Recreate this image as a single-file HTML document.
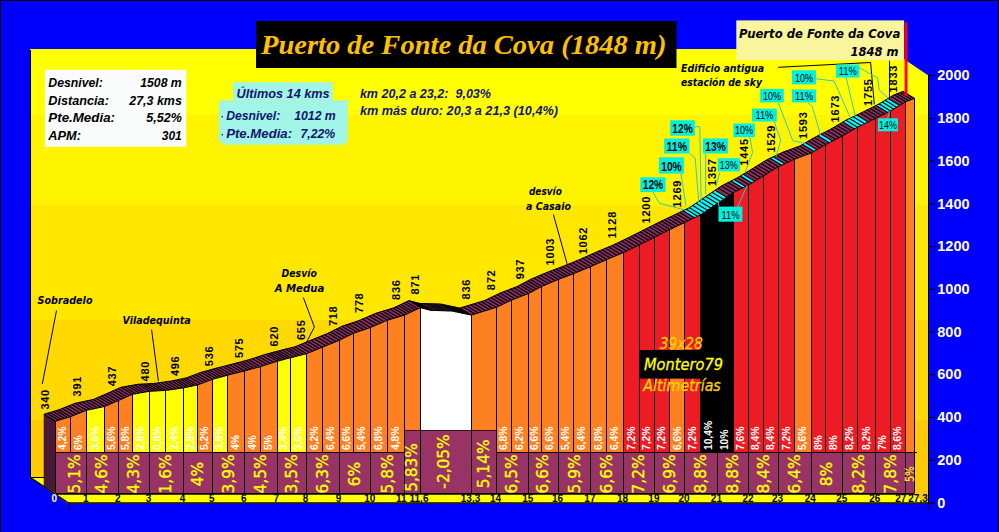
<!DOCTYPE html>
<html><head><meta charset="utf-8"><title>Puerto de Fonte da Cova</title>
<style>
html,body{margin:0;padding:0;background:#0000ff;width:999px;height:532px;overflow:hidden}
</style></head><body>
<svg width="999" height="532" viewBox="0 0 999 532" style="display:block">
<defs>
<linearGradient id="wall" x1="0" y1="49" x2="0" y2="503" gradientUnits="userSpaceOnUse"><stop offset="0" stop-color="#ffff00"/><stop offset="0.1454" stop-color="#ffff00"/><stop offset="0.1454" stop-color="#fff400"/><stop offset="0.3436" stop-color="#fff400"/><stop offset="0.3436" stop-color="#ffe700"/><stop offset="0.5969" stop-color="#ffe700"/><stop offset="0.5969" stop-color="#ffd900"/><stop offset="0.8172" stop-color="#ffd900"/><stop offset="0.8172" stop-color="#ffcb00"/><stop offset="1" stop-color="#ffcb00"/></linearGradient>
</defs>
<rect x="0" y="0" width="999" height="532" fill="#0000ff"/>
<rect x="0" y="0" width="999" height="1" fill="#000"/><rect x="0" y="0" width="1" height="532" fill="#000"/><rect x="998" y="0" width="1" height="532" fill="#000"/>
<polygon points="30,49 889,49 928,75.3 928,503.5 889,477.5 30,477.5" fill="url(#wall)"/>
<rect x="30" y="50" width="1" height="428" fill="#000"/>
<polygon points="30.5,477.5 889,477.5 928,503.5 68,503.5" fill="#ffff00"/>
<polyline points="30.5,477.5 68.5,503" fill="none" stroke="#000" stroke-width="1.2"/>
<line x1="31" y1="477.5" x2="45" y2="477.5" stroke="#000" stroke-width="1"/>
<line x1="68" y1="503" x2="928" y2="503" stroke="#000" stroke-width="1.5"/>
<line x1="69.5" y1="503" x2="69.5" y2="510" stroke="#000" stroke-width="1"/>
<text x="54.30" y="502.40" font-size="10" font-family="'Liberation Sans', sans-serif" font-weight="bold" fill="#fff" text-anchor="middle">0</text>
<text x="85.70" y="502.40" font-size="10" font-family="'Liberation Sans', sans-serif" font-weight="bold" fill="#000" text-anchor="middle">1</text>
<text x="117.70" y="502.40" font-size="10" font-family="'Liberation Sans', sans-serif" font-weight="bold" fill="#000" text-anchor="middle">2</text>
<text x="148.50" y="502.40" font-size="10" font-family="'Liberation Sans', sans-serif" font-weight="bold" fill="#000" text-anchor="middle">3</text>
<text x="182.60" y="502.40" font-size="10" font-family="'Liberation Sans', sans-serif" font-weight="bold" fill="#000" text-anchor="middle">4</text>
<text x="211.80" y="502.40" font-size="10" font-family="'Liberation Sans', sans-serif" font-weight="bold" fill="#000" text-anchor="middle">5</text>
<text x="243.70" y="502.40" font-size="10" font-family="'Liberation Sans', sans-serif" font-weight="bold" fill="#000" text-anchor="middle">6</text>
<text x="276.40" y="502.40" font-size="10" font-family="'Liberation Sans', sans-serif" font-weight="bold" fill="#000" text-anchor="middle">7</text>
<text x="305.60" y="502.40" font-size="10" font-family="'Liberation Sans', sans-serif" font-weight="bold" fill="#000" text-anchor="middle">8</text>
<text x="338.60" y="502.40" font-size="10" font-family="'Liberation Sans', sans-serif" font-weight="bold" fill="#000" text-anchor="middle">9</text>
<text x="369.70" y="502.40" font-size="10" font-family="'Liberation Sans', sans-serif" font-weight="bold" fill="#000" text-anchor="middle">10</text>
<text x="401.30" y="502.40" font-size="10" font-family="'Liberation Sans', sans-serif" font-weight="bold" fill="#000" text-anchor="middle">11</text>
<text x="419.00" y="502.40" font-size="10" font-family="'Liberation Sans', sans-serif" font-weight="bold" fill="#000" text-anchor="middle">11,6</text>
<text x="470.50" y="502.40" font-size="10" font-family="'Liberation Sans', sans-serif" font-weight="bold" fill="#000" text-anchor="middle">13,3</text>
<text x="495.50" y="502.40" font-size="10" font-family="'Liberation Sans', sans-serif" font-weight="bold" fill="#000" text-anchor="middle">14</text>
<text x="527.80" y="502.40" font-size="10" font-family="'Liberation Sans', sans-serif" font-weight="bold" fill="#000" text-anchor="middle">15</text>
<text x="557.60" y="502.40" font-size="10" font-family="'Liberation Sans', sans-serif" font-weight="bold" fill="#000" text-anchor="middle">16</text>
<text x="589.90" y="502.40" font-size="10" font-family="'Liberation Sans', sans-serif" font-weight="bold" fill="#000" text-anchor="middle">17</text>
<text x="622.60" y="502.40" font-size="10" font-family="'Liberation Sans', sans-serif" font-weight="bold" fill="#000" text-anchor="middle">18</text>
<text x="653.90" y="502.40" font-size="10" font-family="'Liberation Sans', sans-serif" font-weight="bold" fill="#000" text-anchor="middle">19</text>
<text x="684.10" y="502.40" font-size="10" font-family="'Liberation Sans', sans-serif" font-weight="bold" fill="#000" text-anchor="middle">20</text>
<text x="716.40" y="502.40" font-size="10" font-family="'Liberation Sans', sans-serif" font-weight="bold" fill="#000" text-anchor="middle">21</text>
<text x="748.00" y="502.40" font-size="10" font-family="'Liberation Sans', sans-serif" font-weight="bold" fill="#000" text-anchor="middle">22</text>
<text x="777.50" y="502.40" font-size="10" font-family="'Liberation Sans', sans-serif" font-weight="bold" fill="#000" text-anchor="middle">23</text>
<text x="810.30" y="502.40" font-size="10" font-family="'Liberation Sans', sans-serif" font-weight="bold" fill="#000" text-anchor="middle">24</text>
<text x="841.70" y="502.40" font-size="10" font-family="'Liberation Sans', sans-serif" font-weight="bold" fill="#000" text-anchor="middle">25</text>
<text x="874.80" y="502.40" font-size="10" font-family="'Liberation Sans', sans-serif" font-weight="bold" fill="#000" text-anchor="middle">26</text>
<text x="900.70" y="502.40" font-size="10" font-family="'Liberation Sans', sans-serif" font-weight="bold" fill="#000" text-anchor="middle">27</text>
<text x="918.00" y="502.40" font-size="10" font-family="'Liberation Sans', sans-serif" font-weight="bold" fill="#000" text-anchor="middle">27,3</text>
<polygon points="44.1,414.2 55.6,421.2 55.6,493.0 44.1,486.0" fill="#4a1834" stroke="#000" stroke-width="0.6"/>
<polygon points="55.6,493.0 55.6,421.2 70.5,416.7 70.5,493.0" fill="#ff8021"/>
<polygon points="70.5,493.0 70.5,416.7 86.5,410.3 86.5,493.0" fill="#ff8021"/>
<polygon points="86.5,493.0 86.5,410.3 104.6,406.5 104.6,493.0" fill="#ffff00"/>
<polygon points="104.6,493.0 104.6,406.5 118.5,400.5 118.5,493.0" fill="#ff8021"/>
<polygon points="118.5,493.0 118.5,400.5 132.4,394.3 132.4,493.0" fill="#ff8021"/>
<polygon points="132.4,493.0 132.4,394.3 149.3,391.3 149.3,493.0" fill="#ffff00"/>
<polygon points="149.3,493.0 149.3,391.3 165.7,390.4 165.7,493.0" fill="#ffff00"/>
<polygon points="165.7,493.0 165.7,390.4 183.4,387.9 183.4,493.0" fill="#ffff00"/>
<polygon points="183.4,493.0 183.4,387.9 197.7,384.9 197.7,493.0" fill="#ffff00"/>
<polygon points="197.7,493.0 197.7,384.9 212.6,379.3 212.6,493.0" fill="#ff8021"/>
<polygon points="212.6,493.0 212.6,379.3 227.6,375.2 227.6,493.0" fill="#ffff00"/>
<polygon points="227.6,493.0 227.6,375.2 244.5,370.9 244.5,493.0" fill="#ff8021"/>
<polygon points="244.5,493.0 244.5,370.9 260.3,366.7 260.3,493.0" fill="#ff8021"/>
<polygon points="260.3,493.0 260.3,366.7 277.2,361.3 277.2,493.0" fill="#ff8021"/>
<polygon points="277.2,493.0 277.2,361.3 290.6,357.7 290.6,493.0" fill="#ffff00"/>
<polygon points="290.6,493.0 290.6,357.7 306.4,353.8 306.4,493.0" fill="#ffff00"/>
<polygon points="306.4,493.0 306.4,353.8 322.4,347.2 322.4,493.0" fill="#ff8021"/>
<polygon points="322.4,493.0 322.4,347.2 339.4,340.3 339.4,493.0" fill="#ff8021"/>
<polygon points="339.4,493.0 339.4,340.3 353.4,333.3 353.4,493.0" fill="#ff8021"/>
<polygon points="353.4,493.0 353.4,333.3 370.5,327.5 370.5,493.0" fill="#ff8021"/>
<polygon points="370.5,493.0 370.5,327.5 387.5,320.2 387.5,493.0" fill="#ff8021"/>
<polygon points="387.5,493.0 387.5,320.2 404.6,315.1 404.6,493.0" fill="#ff8021"/>
<polygon points="404.6,493.0 404.6,315.1 420.4,307.6 420.4,493.0" fill="#ff8021"/>
<polygon points="420.4,493.0 420.4,307.6 431.0,310.4 452.0,311.0 471.3,315.1 471.3,493.0" fill="#ffffff"/>
<polygon points="471.3,493.0 471.3,315.1 496.3,307.4 496.3,493.0" fill="#ff8021"/>
<polygon points="496.3,493.0 496.3,307.4 511.5,300.1 511.5,493.0" fill="#ff8021"/>
<polygon points="511.5,493.0 511.5,300.1 528.6,293.5 528.6,493.0" fill="#ff8021"/>
<polygon points="528.6,493.0 528.6,293.5 541.9,286.4 541.9,493.0" fill="#ff8021"/>
<polygon points="541.9,493.0 541.9,286.4 558.4,279.4 558.4,493.0" fill="#ff8021"/>
<polygon points="558.4,493.0 558.4,279.4 573.8,273.6 573.8,493.0" fill="#ff8021"/>
<polygon points="573.8,493.0 573.8,273.6 590.7,266.7 590.7,493.0" fill="#ff8021"/>
<polygon points="590.7,493.0 590.7,266.7 606.8,259.5 606.8,493.0" fill="#ff8021"/>
<polygon points="606.8,493.0 606.8,259.5 623.4,252.6 623.4,493.0" fill="#ff8021"/>
<polygon points="623.4,493.0 623.4,252.6 639.4,244.9 639.4,493.0" fill="#ed1c24"/>
<polygon points="639.4,493.0 639.4,244.9 654.7,237.2 654.7,493.0" fill="#ed1c24"/>
<polygon points="654.7,493.0 654.7,237.2 669.9,229.5 669.9,493.0" fill="#ed1c24"/>
<polygon points="669.9,493.0 669.9,229.5 684.9,222.4 684.9,493.0" fill="#ff8021"/>
<polygon points="684.9,493.0 684.9,222.4 700.9,214.7 700.9,493.0" fill="#ed1c24"/>
<polygon points="700.9,493.0 700.9,214.7 717.2,203.6 717.2,493.0" fill="#000000"/>
<polygon points="717.2,493.0 717.2,203.6 733.0,192.9 733.0,493.0" fill="#000000"/>
<polygon points="733.0,493.0 733.0,192.9 748.8,184.8 748.8,493.0" fill="#ed1c24"/>
<polygon points="748.8,493.0 748.8,184.8 763.7,175.8 763.7,493.0" fill="#ed1c24"/>
<polygon points="763.7,493.0 763.7,175.8 778.3,166.8 778.3,493.0" fill="#ed1c24"/>
<polygon points="778.3,493.0 778.3,166.8 794.6,159.1 794.6,493.0" fill="#ed1c24"/>
<polygon points="794.6,493.0 794.6,159.1 811.1,153.1 811.1,493.0" fill="#ff8021"/>
<polygon points="811.1,493.0 811.1,153.1 825.9,144.5 825.9,493.0" fill="#ed1c24"/>
<polygon points="825.9,493.0 825.9,144.5 842.5,136.0 842.5,493.0" fill="#ed1c24"/>
<polygon points="842.5,493.0 842.5,136.0 857.4,127.2 857.4,493.0" fill="#ed1c24"/>
<polygon points="857.4,493.0 857.4,127.2 875.6,118.4 875.6,493.0" fill="#ed1c24"/>
<polygon points="875.6,493.0 875.6,118.4 890.6,110.9 890.6,493.0" fill="#ed1c24"/>
<polygon points="890.6,493.0 890.6,110.9 905.7,101.7 905.7,493.0" fill="#ed1c24"/>
<polygon points="905.7,493.0 905.7,101.7 914.4,98.5 914.4,493.0" fill="#ff8021"/>
<line x1="55.5" y1="421.2" x2="55.5" y2="493.0" stroke="#000" stroke-width="1"/>
<line x1="70.5" y1="416.7" x2="70.5" y2="493.0" stroke="#000" stroke-width="1"/>
<line x1="86.5" y1="410.3" x2="86.5" y2="493.0" stroke="#000" stroke-width="1"/>
<line x1="104.5" y1="406.5" x2="104.5" y2="493.0" stroke="#000" stroke-width="1"/>
<line x1="118.5" y1="400.5" x2="118.5" y2="493.0" stroke="#000" stroke-width="1"/>
<line x1="132.5" y1="394.3" x2="132.5" y2="493.0" stroke="#000" stroke-width="1"/>
<line x1="149.5" y1="391.3" x2="149.5" y2="493.0" stroke="#000" stroke-width="1"/>
<line x1="165.5" y1="390.4" x2="165.5" y2="493.0" stroke="#000" stroke-width="1"/>
<line x1="183.5" y1="387.9" x2="183.5" y2="493.0" stroke="#000" stroke-width="1"/>
<line x1="197.5" y1="384.9" x2="197.5" y2="493.0" stroke="#000" stroke-width="1"/>
<line x1="212.5" y1="379.3" x2="212.5" y2="493.0" stroke="#000" stroke-width="1"/>
<line x1="227.5" y1="375.2" x2="227.5" y2="493.0" stroke="#000" stroke-width="1"/>
<line x1="244.5" y1="370.9" x2="244.5" y2="493.0" stroke="#000" stroke-width="1"/>
<line x1="260.5" y1="366.7" x2="260.5" y2="493.0" stroke="#000" stroke-width="1"/>
<line x1="277.5" y1="361.3" x2="277.5" y2="493.0" stroke="#000" stroke-width="1"/>
<line x1="290.5" y1="357.7" x2="290.5" y2="493.0" stroke="#000" stroke-width="1"/>
<line x1="306.5" y1="353.8" x2="306.5" y2="493.0" stroke="#000" stroke-width="1"/>
<line x1="322.5" y1="347.2" x2="322.5" y2="493.0" stroke="#000" stroke-width="1"/>
<line x1="339.5" y1="340.3" x2="339.5" y2="493.0" stroke="#000" stroke-width="1"/>
<line x1="353.5" y1="333.3" x2="353.5" y2="493.0" stroke="#000" stroke-width="1"/>
<line x1="370.5" y1="327.5" x2="370.5" y2="493.0" stroke="#000" stroke-width="1"/>
<line x1="387.5" y1="320.2" x2="387.5" y2="493.0" stroke="#000" stroke-width="1"/>
<line x1="404.5" y1="315.1" x2="404.5" y2="493.0" stroke="#000" stroke-width="1"/>
<line x1="420.5" y1="307.6" x2="420.5" y2="493.0" stroke="#000" stroke-width="1"/>
<line x1="471.5" y1="315.1" x2="471.5" y2="493.0" stroke="#000" stroke-width="1"/>
<line x1="496.5" y1="307.4" x2="496.5" y2="493.0" stroke="#000" stroke-width="1"/>
<line x1="511.5" y1="300.1" x2="511.5" y2="493.0" stroke="#000" stroke-width="1"/>
<line x1="528.5" y1="293.5" x2="528.5" y2="493.0" stroke="#000" stroke-width="1"/>
<line x1="541.5" y1="286.4" x2="541.5" y2="493.0" stroke="#000" stroke-width="1"/>
<line x1="558.5" y1="279.4" x2="558.5" y2="493.0" stroke="#000" stroke-width="1"/>
<line x1="573.5" y1="273.6" x2="573.5" y2="493.0" stroke="#000" stroke-width="1"/>
<line x1="590.5" y1="266.7" x2="590.5" y2="493.0" stroke="#000" stroke-width="1"/>
<line x1="606.5" y1="259.5" x2="606.5" y2="493.0" stroke="#000" stroke-width="1"/>
<line x1="623.5" y1="252.6" x2="623.5" y2="493.0" stroke="#000" stroke-width="1"/>
<line x1="639.5" y1="244.9" x2="639.5" y2="493.0" stroke="#000" stroke-width="1"/>
<line x1="654.5" y1="237.2" x2="654.5" y2="493.0" stroke="#000" stroke-width="1"/>
<line x1="669.5" y1="229.5" x2="669.5" y2="493.0" stroke="#000" stroke-width="1"/>
<line x1="684.5" y1="222.4" x2="684.5" y2="493.0" stroke="#000" stroke-width="1"/>
<line x1="700.5" y1="214.7" x2="700.5" y2="493.0" stroke="#000" stroke-width="1"/>
<line x1="717.5" y1="203.6" x2="717.5" y2="493.0" stroke="#000" stroke-width="1"/>
<line x1="733.5" y1="192.9" x2="733.5" y2="493.0" stroke="#000" stroke-width="1"/>
<line x1="748.5" y1="184.8" x2="748.5" y2="493.0" stroke="#000" stroke-width="1"/>
<line x1="763.5" y1="175.8" x2="763.5" y2="493.0" stroke="#000" stroke-width="1"/>
<line x1="778.5" y1="166.8" x2="778.5" y2="493.0" stroke="#000" stroke-width="1"/>
<line x1="794.5" y1="159.1" x2="794.5" y2="493.0" stroke="#000" stroke-width="1"/>
<line x1="811.5" y1="153.1" x2="811.5" y2="493.0" stroke="#000" stroke-width="1"/>
<line x1="825.5" y1="144.5" x2="825.5" y2="493.0" stroke="#000" stroke-width="1"/>
<line x1="842.5" y1="136.0" x2="842.5" y2="493.0" stroke="#000" stroke-width="1"/>
<line x1="857.5" y1="127.2" x2="857.5" y2="493.0" stroke="#000" stroke-width="1"/>
<line x1="875.5" y1="118.4" x2="875.5" y2="493.0" stroke="#000" stroke-width="1"/>
<line x1="890.5" y1="110.9" x2="890.5" y2="493.0" stroke="#000" stroke-width="1"/>
<line x1="905.5" y1="101.7" x2="905.5" y2="493.0" stroke="#000" stroke-width="1"/>
<line x1="914.5" y1="98.5" x2="914.5" y2="493.0" stroke="#000" stroke-width="1"/>
<polygon points="55.6,421.2 70.5,416.7 86.5,410.3 104.6,406.5 118.5,400.5 132.4,394.3 149.3,391.3 165.7,390.4 183.4,387.9 197.7,384.9 212.6,379.3 227.6,375.2 244.5,370.9 260.3,366.7 277.2,361.3 290.6,357.7 306.4,353.8 322.4,347.2 339.4,340.3 353.4,333.3 370.5,327.5 387.5,320.2 404.6,315.1 420.4,307.6 431.0,310.4 452.0,311.0 471.3,315.1 496.3,307.4 511.5,300.1 528.6,293.5 541.9,286.4 558.4,279.4 573.8,273.6 590.7,266.7 606.8,259.5 623.4,252.6 639.4,244.9 654.7,237.2 669.9,229.5 684.9,222.4 700.9,214.7 717.2,203.6 733.0,192.9 748.8,184.8 763.7,175.8 778.3,166.8 794.6,159.1 811.1,153.1 825.9,144.5 842.5,136.0 857.4,127.2 875.6,118.4 890.6,110.9 905.7,101.7 914.4,98.5 902.9,91.5 894.2,94.7 879.1,103.9 864.1,111.4 845.9,120.2 831.0,129.0 814.4,137.5 799.6,146.1 783.1,152.1 766.8,159.8 752.2,168.8 737.3,177.8 721.5,185.9 705.7,196.6 689.4,207.7 673.4,215.4 658.4,222.5 643.2,230.2 627.9,237.9 611.9,245.6 595.3,252.5 579.2,259.7 562.3,266.6 546.9,272.4 530.4,279.4 517.1,286.5 500.0,293.1 484.8,300.4 459.8,308.1 440.5,304.0 419.5,303.4 408.9,300.6 393.1,308.1 376.0,313.2 359.0,320.5 341.9,326.3 327.9,333.3 310.9,340.2 294.9,346.8 279.1,350.7 265.7,354.3 248.8,359.7 233.0,363.9 216.1,368.2 201.1,372.3 186.2,377.9 171.9,380.9 154.2,383.4 137.8,384.3 120.9,387.3 107.0,393.5 93.1,399.5 75.0,403.3 59.0,409.7 44.1,414.2" fill="#8a2e62"/>
<polygon points="694.5,217.8 697.7,216.3 686.2,209.3 683.0,210.8" fill="#00ffff"/>
<polygon points="697.7,216.3 700.9,214.7 689.4,207.7 686.2,209.3" fill="#00ffff"/>
<polygon points="700.9,214.7 704.2,212.5 692.7,205.5 689.4,207.7" fill="#00ffff"/>
<polygon points="704.2,212.5 707.4,210.3 695.9,203.3 692.7,205.5" fill="#00ffff"/>
<polygon points="707.4,210.3 710.7,208.1 699.2,201.1 695.9,203.3" fill="#00ffff"/>
<polygon points="710.7,208.1 713.9,205.8 702.4,198.8 699.2,201.1" fill="#00ffff"/>
<polygon points="713.9,205.8 717.2,203.6 705.7,196.6 702.4,198.8" fill="#00ffff"/>
<polygon points="717.2,203.6 720.4,201.5 708.9,194.5 705.7,196.6" fill="#00ffff"/>
<polygon points="720.4,201.5 723.5,199.3 712.0,192.3 708.9,194.5" fill="#00ffff"/>
<polygon points="723.5,199.3 726.7,197.2 715.2,190.2 712.0,192.3" fill="#00ffff"/>
<polygon points="742.5,188.0 745.6,186.4 734.1,179.4 731.0,181.0" fill="#00ffff"/>
<polygon points="751.8,183.0 754.8,181.2 743.3,174.2 740.3,176.0" fill="#00ffff"/>
<polygon points="781.6,165.3 784.8,163.7 773.3,156.7 770.1,158.3" fill="#00ffff"/>
<polygon points="814.1,151.4 817.0,149.7 805.5,142.7 802.6,144.4" fill="#00ffff"/>
<polygon points="829.2,142.8 832.5,141.1 821.0,134.1 817.7,135.8" fill="#00ffff"/>
<polygon points="854.4,129.0 857.4,127.2 845.9,120.2 842.9,122.0" fill="#00ffff"/>
<polygon points="857.4,127.2 861.0,125.4 849.5,118.4 845.9,120.2" fill="#00ffff"/>
<polygon points="861.0,125.4 864.7,123.7 853.2,116.7 849.5,118.4" fill="#00ffff"/>
<polygon points="864.7,123.7 868.3,121.9 856.8,114.9 853.2,116.7" fill="#00ffff"/>
<polygon points="887.6,112.4 890.6,110.9 879.1,103.9 876.1,105.4" fill="#00ffff"/>
<polygon points="890.6,110.9 893.6,109.1 882.1,102.1 879.1,103.9" fill="#00ffff"/>
<polygon points="893.6,109.1 896.6,107.3 885.1,100.3 882.1,102.1" fill="#00ffff"/>
<polygon points="896.6,107.3 899.7,105.4 888.2,98.4 885.1,100.3" fill="#00ffff"/>
<path d="M55.6,421.2l-11.5,-7.0M58.6,420.3l-11.5,-7.0M61.6,419.4l-11.5,-7.0M64.5,418.5l-11.5,-7.0M67.5,417.6l-11.5,-7.0M70.5,416.7l-11.5,-7.0M73.7,415.5l-11.5,-7.0M76.9,414.2l-11.5,-7.0M80.1,412.9l-11.5,-7.0M83.3,411.6l-11.5,-7.0M86.5,410.3l-11.5,-7.0M90.1,409.6l-11.5,-7.0M93.7,408.8l-11.5,-7.0M97.4,408.0l-11.5,-7.0M101.0,407.2l-11.5,-7.0M104.6,406.5l-11.5,-7.0M107.4,405.3l-11.5,-7.0M110.2,404.1l-11.5,-7.0M112.9,402.9l-11.5,-7.0M115.7,401.7l-11.5,-7.0M118.5,400.5l-11.5,-7.0M121.3,399.2l-11.5,-7.0M124.1,398.0l-11.5,-7.0M126.8,396.8l-11.5,-7.0M129.6,395.5l-11.5,-7.0M132.4,394.3l-11.5,-7.0M135.8,393.7l-11.5,-7.0M139.2,393.1l-11.5,-7.0M142.5,392.5l-11.5,-7.0M145.9,391.9l-11.5,-7.0M149.3,391.3l-11.5,-7.0M152.6,391.1l-11.5,-7.0M155.9,390.9l-11.5,-7.0M159.1,390.8l-11.5,-7.0M162.4,390.6l-11.5,-7.0M165.7,390.4l-11.5,-7.0M169.2,389.9l-11.5,-7.0M172.8,389.4l-11.5,-7.0M176.3,388.9l-11.5,-7.0M179.9,388.4l-11.5,-7.0M183.4,387.9l-11.5,-7.0M186.3,387.3l-11.5,-7.0M189.1,386.7l-11.5,-7.0M192.0,386.1l-11.5,-7.0M194.8,385.5l-11.5,-7.0M197.7,384.9l-11.5,-7.0M200.7,383.7l-11.5,-7.0M203.7,382.6l-11.5,-7.0M206.6,381.5l-11.5,-7.0M209.6,380.4l-11.5,-7.0M212.6,379.3l-11.5,-7.0M215.6,378.5l-11.5,-7.0M218.6,377.7l-11.5,-7.0M221.6,376.9l-11.5,-7.0M224.6,376.0l-11.5,-7.0M227.6,375.2l-11.5,-7.0M231.0,374.4l-11.5,-7.0M234.4,373.5l-11.5,-7.0M237.7,372.7l-11.5,-7.0M241.1,371.8l-11.5,-7.0M244.5,370.9l-11.5,-7.0M247.7,370.1l-11.5,-7.0M250.8,369.2l-11.5,-7.0M254.0,368.4l-11.5,-7.0M257.1,367.5l-11.5,-7.0M260.3,366.7l-11.5,-7.0M263.7,365.6l-11.5,-7.0M267.1,364.5l-11.5,-7.0M270.4,363.5l-11.5,-7.0M273.8,362.4l-11.5,-7.0M277.2,361.3l-11.5,-7.0M279.9,360.6l-11.5,-7.0M282.6,359.9l-11.5,-7.0M285.2,359.1l-11.5,-7.0M287.9,358.4l-11.5,-7.0M290.6,357.7l-11.5,-7.0M293.8,356.9l-11.5,-7.0M296.9,356.1l-11.5,-7.0M300.1,355.4l-11.5,-7.0M303.2,354.6l-11.5,-7.0M306.4,353.8l-11.5,-7.0M309.6,352.5l-11.5,-7.0M312.8,351.2l-11.5,-7.0M316.0,349.8l-11.5,-7.0M319.2,348.5l-11.5,-7.0M322.4,347.2l-11.5,-7.0M325.8,345.8l-11.5,-7.0M329.2,344.5l-11.5,-7.0M332.6,343.1l-11.5,-7.0M336.0,341.7l-11.5,-7.0M339.4,340.3l-11.5,-7.0M342.2,338.9l-11.5,-7.0M345.0,337.5l-11.5,-7.0M347.8,336.1l-11.5,-7.0M350.6,334.7l-11.5,-7.0M353.4,333.3l-11.5,-7.0M356.8,332.1l-11.5,-7.0M360.2,331.0l-11.5,-7.0M363.7,329.8l-11.5,-7.0M367.1,328.7l-11.5,-7.0M370.5,327.5l-11.5,-7.0M373.9,326.1l-11.5,-7.0M377.3,324.6l-11.5,-7.0M380.7,323.1l-11.5,-7.0M384.1,321.7l-11.5,-7.0M387.5,320.2l-11.5,-7.0M390.9,319.2l-11.5,-7.0M394.3,318.2l-11.5,-7.0M397.8,317.2l-11.5,-7.0M401.2,316.1l-11.5,-7.0M404.6,315.1l-11.5,-7.0M407.2,313.8l-11.5,-7.0M409.9,312.6l-11.5,-7.0M412.5,311.4l-11.5,-7.0M415.1,310.1l-11.5,-7.0M417.8,308.9l-11.5,-7.0M420.4,307.6l-11.5,-7.0M423.4,308.4l-11.5,-7.0M426.4,309.2l-11.5,-7.0M429.4,310.0l-11.5,-7.0M432.4,310.4l-11.5,-7.0M435.4,310.5l-11.5,-7.0M438.4,310.6l-11.5,-7.0M441.4,310.7l-11.5,-7.0M444.4,310.8l-11.5,-7.0M447.3,310.9l-11.5,-7.0M450.3,311.0l-11.5,-7.0M453.3,311.3l-11.5,-7.0M456.3,311.9l-11.5,-7.0M459.3,312.6l-11.5,-7.0M462.3,313.2l-11.5,-7.0M465.3,313.8l-11.5,-7.0M468.3,314.5l-11.5,-7.0M471.3,315.1l-11.5,-7.0M474.9,314.0l-11.5,-7.0M478.4,312.9l-11.5,-7.0M482.0,311.8l-11.5,-7.0M485.6,310.7l-11.5,-7.0M489.2,309.6l-11.5,-7.0M492.7,308.5l-11.5,-7.0M496.3,307.4l-11.5,-7.0M499.3,305.9l-11.5,-7.0M502.4,304.5l-11.5,-7.0M505.4,303.0l-11.5,-7.0M508.5,301.6l-11.5,-7.0M511.5,300.1l-11.5,-7.0M514.9,298.8l-11.5,-7.0M518.3,297.5l-11.5,-7.0M521.8,296.1l-11.5,-7.0M525.2,294.8l-11.5,-7.0M528.6,293.5l-11.5,-7.0M531.3,292.1l-11.5,-7.0M533.9,290.7l-11.5,-7.0M536.6,289.2l-11.5,-7.0M539.2,287.8l-11.5,-7.0M541.9,286.4l-11.5,-7.0M545.2,285.0l-11.5,-7.0M548.5,283.6l-11.5,-7.0M551.8,282.2l-11.5,-7.0M555.1,280.8l-11.5,-7.0M558.4,279.4l-11.5,-7.0M561.5,278.2l-11.5,-7.0M564.6,277.0l-11.5,-7.0M567.6,275.9l-11.5,-7.0M570.7,274.7l-11.5,-7.0M573.8,273.6l-11.5,-7.0M577.2,272.2l-11.5,-7.0M580.6,270.8l-11.5,-7.0M583.9,269.5l-11.5,-7.0M587.3,268.1l-11.5,-7.0M590.7,266.7l-11.5,-7.0M593.9,265.3l-11.5,-7.0M597.1,263.8l-11.5,-7.0M600.4,262.4l-11.5,-7.0M603.6,260.9l-11.5,-7.0M606.8,259.5l-11.5,-7.0M610.1,258.1l-11.5,-7.0M613.4,256.7l-11.5,-7.0M616.8,255.3l-11.5,-7.0M620.1,254.0l-11.5,-7.0M623.4,252.6l-11.5,-7.0M626.6,251.1l-11.5,-7.0M629.8,249.5l-11.5,-7.0M633.0,248.0l-11.5,-7.0M636.2,246.4l-11.5,-7.0M639.4,244.9l-11.5,-7.0M642.5,243.4l-11.5,-7.0M645.5,241.8l-11.5,-7.0M648.6,240.3l-11.5,-7.0M651.6,238.7l-11.5,-7.0M654.7,237.2l-11.5,-7.0M657.7,235.7l-11.5,-7.0M660.8,234.1l-11.5,-7.0M663.8,232.6l-11.5,-7.0M666.9,231.0l-11.5,-7.0M669.9,229.5l-11.5,-7.0M672.9,228.1l-11.5,-7.0M675.9,226.7l-11.5,-7.0M678.9,225.3l-11.5,-7.0M681.9,223.8l-11.5,-7.0M684.9,222.4l-11.5,-7.0M688.1,220.9l-11.5,-7.0M691.3,219.4l-11.5,-7.0M694.5,217.8l-11.5,-7.0M697.7,216.3l-11.5,-7.0M700.9,214.7l-11.5,-7.0M704.2,212.5l-11.5,-7.0M707.4,210.3l-11.5,-7.0M710.7,208.1l-11.5,-7.0M713.9,205.8l-11.5,-7.0M717.2,203.6l-11.5,-7.0M720.4,201.5l-11.5,-7.0M723.5,199.3l-11.5,-7.0M726.7,197.2l-11.5,-7.0M729.8,195.0l-11.5,-7.0M733.0,192.9l-11.5,-7.0M736.2,191.3l-11.5,-7.0M739.3,189.6l-11.5,-7.0M742.5,188.0l-11.5,-7.0M745.6,186.4l-11.5,-7.0M748.8,184.8l-11.5,-7.0M751.8,183.0l-11.5,-7.0M754.8,181.2l-11.5,-7.0M757.7,179.4l-11.5,-7.0M760.7,177.6l-11.5,-7.0M763.7,175.8l-11.5,-7.0M766.6,174.0l-11.5,-7.0M769.5,172.2l-11.5,-7.0M772.5,170.4l-11.5,-7.0M775.4,168.6l-11.5,-7.0M778.3,166.8l-11.5,-7.0M781.6,165.3l-11.5,-7.0M784.8,163.7l-11.5,-7.0M788.1,162.2l-11.5,-7.0M791.3,160.6l-11.5,-7.0M794.6,159.1l-11.5,-7.0M797.9,157.9l-11.5,-7.0M801.2,156.7l-11.5,-7.0M804.5,155.5l-11.5,-7.0M807.8,154.3l-11.5,-7.0M811.1,153.1l-11.5,-7.0M814.1,151.4l-11.5,-7.0M817.0,149.7l-11.5,-7.0M820.0,148.0l-11.5,-7.0M822.9,146.3l-11.5,-7.0M825.9,144.5l-11.5,-7.0M829.2,142.8l-11.5,-7.0M832.5,141.1l-11.5,-7.0M835.9,139.4l-11.5,-7.0M839.2,137.7l-11.5,-7.0M842.5,136.0l-11.5,-7.0M845.5,134.2l-11.5,-7.0M848.5,132.5l-11.5,-7.0M851.4,130.7l-11.5,-7.0M854.4,129.0l-11.5,-7.0M857.4,127.2l-11.5,-7.0M861.0,125.4l-11.5,-7.0M864.7,123.7l-11.5,-7.0M868.3,121.9l-11.5,-7.0M872.0,120.2l-11.5,-7.0M875.6,118.4l-11.5,-7.0M878.6,116.9l-11.5,-7.0M881.6,115.4l-11.5,-7.0M884.6,113.9l-11.5,-7.0M887.6,112.4l-11.5,-7.0M890.6,110.9l-11.5,-7.0M893.6,109.1l-11.5,-7.0M896.6,107.3l-11.5,-7.0M899.7,105.4l-11.5,-7.0M902.7,103.6l-11.5,-7.0M905.7,101.7l-11.5,-7.0M908.6,100.7l-11.5,-7.0M911.5,99.6l-11.5,-7.0M914.4,98.5l-11.5,-7.0" stroke="#000" stroke-width="1.15" fill="none"/>
<polyline points="44.1,414.2 59.0,409.7 75.0,403.3 93.1,399.5 107.0,393.5 120.9,387.3 137.8,384.3 154.2,383.4 171.9,380.9 186.2,377.9 201.1,372.3 216.1,368.2 233.0,363.9 248.8,359.7 265.7,354.3 279.1,350.7 294.9,346.8 310.9,340.2 327.9,333.3 341.9,326.3 359.0,320.5 376.0,313.2 393.1,308.1 408.9,300.6 419.5,303.4 440.5,304.0 459.8,308.1 484.8,300.4 500.0,293.1 517.1,286.5 530.4,279.4 546.9,272.4 562.3,266.6 579.2,259.7 595.3,252.5 611.9,245.6 627.9,237.9 643.2,230.2 658.4,222.5 673.4,215.4 689.4,207.7 705.7,196.6 721.5,185.9 737.3,177.8 752.2,168.8 766.8,159.8 783.1,152.1 799.6,146.1 814.4,137.5 831.0,129.0 845.9,120.2 864.1,111.4 879.1,103.9 894.2,94.7 902.9,91.5" fill="none" stroke="#000" stroke-width="1"/>
<polyline points="55.6,421.2 70.5,416.7 86.5,410.3 104.6,406.5 118.5,400.5 132.4,394.3 149.3,391.3 165.7,390.4 183.4,387.9 197.7,384.9 212.6,379.3 227.6,375.2 244.5,370.9 260.3,366.7 277.2,361.3 290.6,357.7 306.4,353.8 322.4,347.2 339.4,340.3 353.4,333.3 370.5,327.5 387.5,320.2 404.6,315.1 420.4,307.6 431.0,310.4 452.0,311.0 471.3,315.1 496.3,307.4 511.5,300.1 528.6,293.5 541.9,286.4 558.4,279.4 573.8,273.6 590.7,266.7 606.8,259.5 623.4,252.6 639.4,244.9 654.7,237.2 669.9,229.5 684.9,222.4 700.9,214.7 717.2,203.6 733.0,192.9 748.8,184.8 763.7,175.8 778.3,166.8 794.6,159.1 811.1,153.1 825.9,144.5 842.5,136.0 857.4,127.2 875.6,118.4 890.6,110.9 905.7,101.7 914.4,98.5" fill="none" stroke="#000" stroke-width="1"/>
<line x1="914.4" y1="98.52800000000002" x2="902.9" y2="91.52800000000002" stroke="#000" stroke-width="1"/>
<rect x="55.6" y="452.5" width="858.8" height="40.5" fill="#993366"/>
<rect x="404.6" y="430" width="91.7" height="63.0" fill="#993366"/>
<line x1="55.6" y1="452.5" x2="404.6" y2="452.5" stroke="#000" stroke-width="1"/>
<line x1="496.3" y1="452.5" x2="916.9" y2="452.5" stroke="#000" stroke-width="1"/>
<line x1="404.6" y1="430.5" x2="496.3" y2="430.5" stroke="#3a0f26" stroke-width="1.2"/>
<line x1="55.5" y1="430" x2="55.5" y2="493.0" stroke="#000" stroke-width="1"/>
<line x1="86.5" y1="430" x2="86.5" y2="493.0" stroke="#000" stroke-width="1"/>
<line x1="118.5" y1="430" x2="118.5" y2="493.0" stroke="#000" stroke-width="1"/>
<line x1="149.5" y1="430" x2="149.5" y2="493.0" stroke="#000" stroke-width="1"/>
<line x1="183.5" y1="430" x2="183.5" y2="493.0" stroke="#000" stroke-width="1"/>
<line x1="212.5" y1="430" x2="212.5" y2="493.0" stroke="#000" stroke-width="1"/>
<line x1="244.5" y1="430" x2="244.5" y2="493.0" stroke="#000" stroke-width="1"/>
<line x1="277.5" y1="430" x2="277.5" y2="493.0" stroke="#000" stroke-width="1"/>
<line x1="306.5" y1="430" x2="306.5" y2="493.0" stroke="#000" stroke-width="1"/>
<line x1="339.5" y1="430" x2="339.5" y2="493.0" stroke="#000" stroke-width="1"/>
<line x1="370.5" y1="430" x2="370.5" y2="493.0" stroke="#000" stroke-width="1"/>
<line x1="404.5" y1="430" x2="404.5" y2="493.0" stroke="#000" stroke-width="1"/>
<line x1="420.5" y1="430" x2="420.5" y2="493.0" stroke="#000" stroke-width="1"/>
<line x1="471.5" y1="430" x2="471.5" y2="493.0" stroke="#000" stroke-width="1"/>
<line x1="496.5" y1="430" x2="496.5" y2="493.0" stroke="#000" stroke-width="1"/>
<line x1="528.5" y1="430" x2="528.5" y2="493.0" stroke="#000" stroke-width="1"/>
<line x1="558.5" y1="430" x2="558.5" y2="493.0" stroke="#000" stroke-width="1"/>
<line x1="590.5" y1="430" x2="590.5" y2="493.0" stroke="#000" stroke-width="1"/>
<line x1="623.5" y1="430" x2="623.5" y2="493.0" stroke="#000" stroke-width="1"/>
<line x1="654.5" y1="430" x2="654.5" y2="493.0" stroke="#000" stroke-width="1"/>
<line x1="684.5" y1="430" x2="684.5" y2="493.0" stroke="#000" stroke-width="1"/>
<line x1="717.5" y1="430" x2="717.5" y2="493.0" stroke="#000" stroke-width="1"/>
<line x1="748.5" y1="430" x2="748.5" y2="493.0" stroke="#000" stroke-width="1"/>
<line x1="778.5" y1="430" x2="778.5" y2="493.0" stroke="#000" stroke-width="1"/>
<line x1="811.5" y1="430" x2="811.5" y2="493.0" stroke="#000" stroke-width="1"/>
<line x1="842.5" y1="430" x2="842.5" y2="493.0" stroke="#000" stroke-width="1"/>
<line x1="875.5" y1="430" x2="875.5" y2="493.0" stroke="#000" stroke-width="1"/>
<line x1="905.5" y1="430" x2="905.5" y2="493.0" stroke="#000" stroke-width="1"/>
<line x1="914.5" y1="430" x2="914.5" y2="493.0" stroke="#000" stroke-width="1"/>
<line x1="55.6" y1="493.8" x2="914.4" y2="493.8" stroke="#000" stroke-width="1.8"/>
<text x="66.25" y="450.10" font-size="10.3" font-family="'Liberation Sans', sans-serif" font-weight="bold" fill="#ffffff" transform="rotate(-90 66.25 450.10)">4,2%</text>
<text x="81.70" y="450.10" font-size="10.3" font-family="'Liberation Sans', sans-serif" font-weight="bold" fill="#ffffff" transform="rotate(-90 81.70 450.10)">6%</text>
<text x="98.75" y="450.10" font-size="10.3" font-family="'Liberation Sans', sans-serif" font-weight="bold" fill="#ffffff" transform="rotate(-90 98.75 450.10)">3,6%</text>
<text x="114.75" y="450.10" font-size="10.3" font-family="'Liberation Sans', sans-serif" font-weight="bold" fill="#ffffff" transform="rotate(-90 114.75 450.10)">5,6%</text>
<text x="128.65" y="450.10" font-size="10.3" font-family="'Liberation Sans', sans-serif" font-weight="bold" fill="#ffffff" transform="rotate(-90 128.65 450.10)">5,8%</text>
<text x="144.05" y="450.10" font-size="10.3" font-family="'Liberation Sans', sans-serif" font-weight="bold" fill="#ffffff" transform="rotate(-90 144.05 450.10)">2,8%</text>
<text x="160.70" y="450.10" font-size="10.3" font-family="'Liberation Sans', sans-serif" font-weight="bold" fill="#ffffff" transform="rotate(-90 160.70 450.10)">0,8%</text>
<text x="177.75" y="450.10" font-size="10.3" font-family="'Liberation Sans', sans-serif" font-weight="bold" fill="#ffffff" transform="rotate(-90 177.75 450.10)">2,4%</text>
<text x="193.75" y="450.10" font-size="10.3" font-family="'Liberation Sans', sans-serif" font-weight="bold" fill="#ffffff" transform="rotate(-90 193.75 450.10)">2,8%</text>
<text x="208.35" y="450.10" font-size="10.3" font-family="'Liberation Sans', sans-serif" font-weight="bold" fill="#ffffff" transform="rotate(-90 208.35 450.10)">5,2%</text>
<text x="223.30" y="450.10" font-size="10.3" font-family="'Liberation Sans', sans-serif" font-weight="bold" fill="#ffffff" transform="rotate(-90 223.30 450.10)">3,8%</text>
<text x="239.25" y="450.10" font-size="10.3" font-family="'Liberation Sans', sans-serif" font-weight="bold" fill="#ffffff" transform="rotate(-90 239.25 450.10)">4%</text>
<text x="255.60" y="450.10" font-size="10.3" font-family="'Liberation Sans', sans-serif" font-weight="bold" fill="#ffffff" transform="rotate(-90 255.60 450.10)">4%</text>
<text x="271.95" y="450.10" font-size="10.3" font-family="'Liberation Sans', sans-serif" font-weight="bold" fill="#ffffff" transform="rotate(-90 271.95 450.10)">5%</text>
<text x="287.10" y="450.10" font-size="10.3" font-family="'Liberation Sans', sans-serif" font-weight="bold" fill="#ffffff" transform="rotate(-90 287.10 450.10)">3,4%</text>
<text x="301.70" y="450.10" font-size="10.3" font-family="'Liberation Sans', sans-serif" font-weight="bold" fill="#ffffff" transform="rotate(-90 301.70 450.10)">3,6%</text>
<text x="317.60" y="450.10" font-size="10.3" font-family="'Liberation Sans', sans-serif" font-weight="bold" fill="#ffffff" transform="rotate(-90 317.60 450.10)">6,2%</text>
<text x="334.10" y="450.10" font-size="10.3" font-family="'Liberation Sans', sans-serif" font-weight="bold" fill="#ffffff" transform="rotate(-90 334.10 450.10)">6,4%</text>
<text x="349.60" y="450.10" font-size="10.3" font-family="'Liberation Sans', sans-serif" font-weight="bold" fill="#ffffff" transform="rotate(-90 349.60 450.10)">6,6%</text>
<text x="365.15" y="450.10" font-size="10.3" font-family="'Liberation Sans', sans-serif" font-weight="bold" fill="#ffffff" transform="rotate(-90 365.15 450.10)">5,4%</text>
<text x="382.20" y="450.10" font-size="10.3" font-family="'Liberation Sans', sans-serif" font-weight="bold" fill="#ffffff" transform="rotate(-90 382.20 450.10)">6,8%</text>
<text x="399.25" y="450.10" font-size="10.3" font-family="'Liberation Sans', sans-serif" font-weight="bold" fill="#ffffff" transform="rotate(-90 399.25 450.10)">4,8%</text>
<text x="507.10" y="450.10" font-size="10.3" font-family="'Liberation Sans', sans-serif" font-weight="bold" fill="#ffffff" transform="rotate(-90 507.10 450.10)">6,8%</text>
<text x="523.25" y="450.10" font-size="10.3" font-family="'Liberation Sans', sans-serif" font-weight="bold" fill="#ffffff" transform="rotate(-90 523.25 450.10)">6,2%</text>
<text x="538.45" y="450.10" font-size="10.3" font-family="'Liberation Sans', sans-serif" font-weight="bold" fill="#ffffff" transform="rotate(-90 538.45 450.10)">6,6%</text>
<text x="553.35" y="450.10" font-size="10.3" font-family="'Liberation Sans', sans-serif" font-weight="bold" fill="#ffffff" transform="rotate(-90 553.35 450.10)">6,6%</text>
<text x="569.30" y="450.10" font-size="10.3" font-family="'Liberation Sans', sans-serif" font-weight="bold" fill="#ffffff" transform="rotate(-90 569.30 450.10)">5,4%</text>
<text x="585.45" y="450.10" font-size="10.3" font-family="'Liberation Sans', sans-serif" font-weight="bold" fill="#ffffff" transform="rotate(-90 585.45 450.10)">6,4%</text>
<text x="601.95" y="450.10" font-size="10.3" font-family="'Liberation Sans', sans-serif" font-weight="bold" fill="#ffffff" transform="rotate(-90 601.95 450.10)">6,8%</text>
<text x="618.30" y="450.10" font-size="10.3" font-family="'Liberation Sans', sans-serif" font-weight="bold" fill="#ffffff" transform="rotate(-90 618.30 450.10)">6,4%</text>
<text x="634.60" y="450.10" font-size="10.3" font-family="'Liberation Sans', sans-serif" font-weight="bold" fill="#ffffff" transform="rotate(-90 634.60 450.10)">7,2%</text>
<text x="650.25" y="450.10" font-size="10.3" font-family="'Liberation Sans', sans-serif" font-weight="bold" fill="#ffffff" transform="rotate(-90 650.25 450.10)">7,2%</text>
<text x="665.50" y="450.10" font-size="10.3" font-family="'Liberation Sans', sans-serif" font-weight="bold" fill="#ffffff" transform="rotate(-90 665.50 450.10)">7,2%</text>
<text x="680.60" y="450.10" font-size="10.3" font-family="'Liberation Sans', sans-serif" font-weight="bold" fill="#ffffff" transform="rotate(-90 680.60 450.10)">6,6%</text>
<text x="696.10" y="450.10" font-size="10.3" font-family="'Liberation Sans', sans-serif" font-weight="bold" fill="#ffffff" transform="rotate(-90 696.10 450.10)">7,2%</text>
<text x="712.25" y="450.10" font-size="10.3" font-family="'Liberation Sans', sans-serif" font-weight="bold" fill="#ffffff" transform="rotate(-90 712.25 450.10)">10,4%</text>
<text x="728.30" y="450.10" font-size="10.3" font-family="'Liberation Sans', sans-serif" font-weight="bold" fill="#ffffff" transform="rotate(-90 728.30 450.10)">10%</text>
<text x="744.10" y="450.10" font-size="10.3" font-family="'Liberation Sans', sans-serif" font-weight="bold" fill="#ffffff" transform="rotate(-90 744.10 450.10)">7,6%</text>
<text x="759.45" y="450.10" font-size="10.3" font-family="'Liberation Sans', sans-serif" font-weight="bold" fill="#ffffff" transform="rotate(-90 759.45 450.10)">8,4%</text>
<text x="774.20" y="450.10" font-size="10.3" font-family="'Liberation Sans', sans-serif" font-weight="bold" fill="#ffffff" transform="rotate(-90 774.20 450.10)">8,4%</text>
<text x="789.65" y="450.10" font-size="10.3" font-family="'Liberation Sans', sans-serif" font-weight="bold" fill="#ffffff" transform="rotate(-90 789.65 450.10)">7,2%</text>
<text x="806.05" y="450.10" font-size="10.3" font-family="'Liberation Sans', sans-serif" font-weight="bold" fill="#ffffff" transform="rotate(-90 806.05 450.10)">5,6%</text>
<text x="821.70" y="450.10" font-size="10.3" font-family="'Liberation Sans', sans-serif" font-weight="bold" fill="#ffffff" transform="rotate(-90 821.70 450.10)">8%</text>
<text x="837.40" y="450.10" font-size="10.3" font-family="'Liberation Sans', sans-serif" font-weight="bold" fill="#ffffff" transform="rotate(-90 837.40 450.10)">8%</text>
<text x="853.15" y="450.10" font-size="10.3" font-family="'Liberation Sans', sans-serif" font-weight="bold" fill="#ffffff" transform="rotate(-90 853.15 450.10)">8,2%</text>
<text x="869.70" y="450.10" font-size="10.3" font-family="'Liberation Sans', sans-serif" font-weight="bold" fill="#ffffff" transform="rotate(-90 869.70 450.10)">8,2%</text>
<text x="886.30" y="450.10" font-size="10.3" font-family="'Liberation Sans', sans-serif" font-weight="bold" fill="#ffffff" transform="rotate(-90 886.30 450.10)">7%</text>
<text x="901.35" y="450.10" font-size="10.3" font-family="'Liberation Sans', sans-serif" font-weight="bold" fill="#ffffff" transform="rotate(-90 901.35 450.10)">8,6%</text>
<clipPath id="mclip"><rect x="40" y="430" width="900" height="63.2"/></clipPath><g clip-path="url(#mclip)">
<text x="79.55" y="493.49" font-size="16.5" font-family="'DejaVu Sans', sans-serif" fill="#ffff00" textLength="38.99" lengthAdjust="spacingAndGlyphs" transform="rotate(-90 79.55 493.49)" stroke="#ffff00" stroke-width="0.35">5,1%</text>
<text x="107.50" y="493.49" font-size="16.5" font-family="'DejaVu Sans', sans-serif" fill="#ffff00" textLength="38.99" lengthAdjust="spacingAndGlyphs" transform="rotate(-90 107.50 493.49)" stroke="#ffff00" stroke-width="0.35">4,6%</text>
<text x="138.90" y="493.49" font-size="16.5" font-family="'DejaVu Sans', sans-serif" fill="#ffff00" textLength="38.99" lengthAdjust="spacingAndGlyphs" transform="rotate(-90 138.90 493.49)" stroke="#ffff00" stroke-width="0.35">4,3%</text>
<text x="171.35" y="493.49" font-size="16.5" font-family="'DejaVu Sans', sans-serif" fill="#ffff00" textLength="38.99" lengthAdjust="spacingAndGlyphs" transform="rotate(-90 171.35 493.49)" stroke="#ffff00" stroke-width="0.35">1,6%</text>
<text x="203.00" y="486.17" font-size="16.5" font-family="'DejaVu Sans', sans-serif" fill="#ffff00" textLength="24.34" lengthAdjust="spacingAndGlyphs" transform="rotate(-90 203.00 486.17)" stroke="#ffff00" stroke-width="0.35">4%</text>
<text x="233.55" y="493.49" font-size="16.5" font-family="'DejaVu Sans', sans-serif" fill="#ffff00" textLength="38.99" lengthAdjust="spacingAndGlyphs" transform="rotate(-90 233.55 493.49)" stroke="#ffff00" stroke-width="0.35">3,9%</text>
<text x="265.85" y="493.49" font-size="16.5" font-family="'DejaVu Sans', sans-serif" fill="#ffff00" textLength="38.99" lengthAdjust="spacingAndGlyphs" transform="rotate(-90 265.85 493.49)" stroke="#ffff00" stroke-width="0.35">4,5%</text>
<text x="296.80" y="493.49" font-size="16.5" font-family="'DejaVu Sans', sans-serif" fill="#ffff00" textLength="38.99" lengthAdjust="spacingAndGlyphs" transform="rotate(-90 296.80 493.49)" stroke="#ffff00" stroke-width="0.35">3,5%</text>
<text x="327.90" y="493.49" font-size="16.5" font-family="'DejaVu Sans', sans-serif" fill="#ffff00" textLength="38.99" lengthAdjust="spacingAndGlyphs" transform="rotate(-90 327.90 493.49)" stroke="#ffff00" stroke-width="0.35">6,3%</text>
<text x="359.95" y="486.17" font-size="16.5" font-family="'DejaVu Sans', sans-serif" fill="#ffff00" textLength="24.34" lengthAdjust="spacingAndGlyphs" transform="rotate(-90 359.95 486.17)" stroke="#ffff00" stroke-width="0.35">6%</text>
<text x="392.55" y="493.49" font-size="16.5" font-family="'DejaVu Sans', sans-serif" fill="#ffff00" textLength="38.99" lengthAdjust="spacingAndGlyphs" transform="rotate(-90 392.55 493.49)" stroke="#ffff00" stroke-width="0.35">5,8%</text>
<text x="417.50" y="491.87" font-size="16.5" font-family="'DejaVu Sans', sans-serif" fill="#ffff00" textLength="48.75" lengthAdjust="spacingAndGlyphs" transform="rotate(-90 417.50 491.87)" stroke="#ffff00" stroke-width="0.35">5,83%</text>
<text x="449.05" y="488.64" font-size="16.5" font-family="'DejaVu Sans', sans-serif" fill="#ffff00" textLength="54.29" lengthAdjust="spacingAndGlyphs" transform="rotate(-90 449.05 488.64)" stroke="#ffff00" stroke-width="0.35">-2,05%</text>
<text x="488.80" y="488.27" font-size="16.5" font-family="'DejaVu Sans', sans-serif" fill="#ffff00" textLength="48.75" lengthAdjust="spacingAndGlyphs" transform="rotate(-90 488.80 488.27)" stroke="#ffff00" stroke-width="0.35">5,14%</text>
<text x="517.45" y="493.49" font-size="16.5" font-family="'DejaVu Sans', sans-serif" fill="#ffff00" textLength="38.99" lengthAdjust="spacingAndGlyphs" transform="rotate(-90 517.45 493.49)" stroke="#ffff00" stroke-width="0.35">6,5%</text>
<text x="548.50" y="493.49" font-size="16.5" font-family="'DejaVu Sans', sans-serif" fill="#ffff00" textLength="38.99" lengthAdjust="spacingAndGlyphs" transform="rotate(-90 548.50 493.49)" stroke="#ffff00" stroke-width="0.35">6,6%</text>
<text x="579.55" y="493.49" font-size="16.5" font-family="'DejaVu Sans', sans-serif" fill="#ffff00" textLength="38.99" lengthAdjust="spacingAndGlyphs" transform="rotate(-90 579.55 493.49)" stroke="#ffff00" stroke-width="0.35">5,9%</text>
<text x="612.05" y="493.49" font-size="16.5" font-family="'DejaVu Sans', sans-serif" fill="#ffff00" textLength="38.99" lengthAdjust="spacingAndGlyphs" transform="rotate(-90 612.05 493.49)" stroke="#ffff00" stroke-width="0.35">6,6%</text>
<text x="644.05" y="493.49" font-size="16.5" font-family="'DejaVu Sans', sans-serif" fill="#ffff00" textLength="38.99" lengthAdjust="spacingAndGlyphs" transform="rotate(-90 644.05 493.49)" stroke="#ffff00" stroke-width="0.35">7,2%</text>
<text x="674.80" y="493.49" font-size="16.5" font-family="'DejaVu Sans', sans-serif" fill="#ffff00" textLength="38.99" lengthAdjust="spacingAndGlyphs" transform="rotate(-90 674.80 493.49)" stroke="#ffff00" stroke-width="0.35">6,9%</text>
<text x="706.05" y="493.49" font-size="16.5" font-family="'DejaVu Sans', sans-serif" fill="#ffff00" textLength="38.99" lengthAdjust="spacingAndGlyphs" transform="rotate(-90 706.05 493.49)" stroke="#ffff00" stroke-width="0.35">8,8%</text>
<text x="738.00" y="493.49" font-size="16.5" font-family="'DejaVu Sans', sans-serif" fill="#ffff00" textLength="38.99" lengthAdjust="spacingAndGlyphs" transform="rotate(-90 738.00 493.49)" stroke="#ffff00" stroke-width="0.35">8,8%</text>
<text x="768.55" y="493.49" font-size="16.5" font-family="'DejaVu Sans', sans-serif" fill="#ffff00" textLength="38.99" lengthAdjust="spacingAndGlyphs" transform="rotate(-90 768.55 493.49)" stroke="#ffff00" stroke-width="0.35">8,4%</text>
<text x="799.70" y="493.49" font-size="16.5" font-family="'DejaVu Sans', sans-serif" fill="#ffff00" textLength="38.99" lengthAdjust="spacingAndGlyphs" transform="rotate(-90 799.70 493.49)" stroke="#ffff00" stroke-width="0.35">6,4%</text>
<text x="831.80" y="486.17" font-size="16.5" font-family="'DejaVu Sans', sans-serif" fill="#ffff00" textLength="24.34" lengthAdjust="spacingAndGlyphs" transform="rotate(-90 831.80 486.17)" stroke="#ffff00" stroke-width="0.35">8%</text>
<text x="864.05" y="493.49" font-size="16.5" font-family="'DejaVu Sans', sans-serif" fill="#ffff00" textLength="38.99" lengthAdjust="spacingAndGlyphs" transform="rotate(-90 864.05 493.49)" stroke="#ffff00" stroke-width="0.35">8,2%</text>
<text x="895.65" y="493.49" font-size="16.5" font-family="'DejaVu Sans', sans-serif" fill="#ffff00" textLength="38.99" lengthAdjust="spacingAndGlyphs" transform="rotate(-90 895.65 493.49)" stroke="#ffff00" stroke-width="0.35">7,8%</text>
<text x="914.20" y="482.00" font-size="11.5" font-family="'DejaVu Sans', sans-serif" fill="#ffff00" textLength="15.60" lengthAdjust="spacingAndGlyphs" transform="rotate(-90 914.20 482.00)" stroke="#ffff00" stroke-width="0.2">5%</text>
</g>
<text x="48.80" y="409.60" font-size="11" font-family="'Liberation Sans', sans-serif" font-weight="bold" fill="#000" textLength="19.80" lengthAdjust="spacing" transform="rotate(-90 48.80 409.60)">340</text>
<text x="80.90" y="396.40" font-size="11" font-family="'Liberation Sans', sans-serif" font-weight="bold" fill="#000" textLength="19.80" lengthAdjust="spacing" transform="rotate(-90 80.90 396.40)">391</text>
<text x="116.20" y="386.30" font-size="11" font-family="'Liberation Sans', sans-serif" font-weight="bold" fill="#000" textLength="19.80" lengthAdjust="spacing" transform="rotate(-90 116.20 386.30)">437</text>
<text x="148.80" y="381.40" font-size="11" font-family="'Liberation Sans', sans-serif" font-weight="bold" fill="#000" textLength="19.80" lengthAdjust="spacing" transform="rotate(-90 148.80 381.40)">480</text>
<text x="179.20" y="376.10" font-size="11" font-family="'Liberation Sans', sans-serif" font-weight="bold" fill="#000" textLength="19.80" lengthAdjust="spacing" transform="rotate(-90 179.20 376.10)">496</text>
<text x="213.40" y="366.20" font-size="11" font-family="'Liberation Sans', sans-serif" font-weight="bold" fill="#000" textLength="19.80" lengthAdjust="spacing" transform="rotate(-90 213.40 366.20)">536</text>
<text x="243.30" y="358.10" font-size="11" font-family="'Liberation Sans', sans-serif" font-weight="bold" fill="#000" textLength="19.80" lengthAdjust="spacing" transform="rotate(-90 243.30 358.10)">575</text>
<text x="278.30" y="346.40" font-size="11" font-family="'Liberation Sans', sans-serif" font-weight="bold" fill="#000" textLength="19.80" lengthAdjust="spacing" transform="rotate(-90 278.30 346.40)">620</text>
<text x="305.30" y="340.00" font-size="11" font-family="'Liberation Sans', sans-serif" font-weight="bold" fill="#000" textLength="19.80" lengthAdjust="spacing" transform="rotate(-90 305.30 340.00)">655</text>
<text x="336.60" y="326.10" font-size="11" font-family="'Liberation Sans', sans-serif" font-weight="bold" fill="#000" textLength="19.80" lengthAdjust="spacing" transform="rotate(-90 336.60 326.10)">718</text>
<text x="363.20" y="313.10" font-size="11" font-family="'Liberation Sans', sans-serif" font-weight="bold" fill="#000" textLength="19.80" lengthAdjust="spacing" transform="rotate(-90 363.20 313.10)">778</text>
<text x="400.20" y="299.90" font-size="11" font-family="'Liberation Sans', sans-serif" font-weight="bold" fill="#000" textLength="19.80" lengthAdjust="spacing" transform="rotate(-90 400.20 299.90)">836</text>
<text x="418.60" y="294.50" font-size="11" font-family="'Liberation Sans', sans-serif" font-weight="bold" fill="#000" textLength="19.80" lengthAdjust="spacing" transform="rotate(-90 418.60 294.50)">871</text>
<text x="470.50" y="299.40" font-size="11" font-family="'Liberation Sans', sans-serif" font-weight="bold" fill="#000" textLength="19.80" lengthAdjust="spacing" transform="rotate(-90 470.50 299.40)">836</text>
<text x="495.00" y="290.20" font-size="11" font-family="'Liberation Sans', sans-serif" font-weight="bold" fill="#000" textLength="19.80" lengthAdjust="spacing" transform="rotate(-90 495.00 290.20)">872</text>
<text x="523.90" y="279.30" font-size="11" font-family="'Liberation Sans', sans-serif" font-weight="bold" fill="#000" textLength="19.80" lengthAdjust="spacing" transform="rotate(-90 523.90 279.30)">937</text>
<text x="554.00" y="265.40" font-size="11" font-family="'Liberation Sans', sans-serif" font-weight="bold" fill="#000" textLength="26.80" lengthAdjust="spacing" transform="rotate(-90 554.00 265.40)">1003</text>
<text x="586.80" y="254.30" font-size="11" font-family="'Liberation Sans', sans-serif" font-weight="bold" fill="#000" textLength="26.80" lengthAdjust="spacing" transform="rotate(-90 586.80 254.30)">1062</text>
<text x="616.00" y="238.40" font-size="11" font-family="'Liberation Sans', sans-serif" font-weight="bold" fill="#000" textLength="26.80" lengthAdjust="spacing" transform="rotate(-90 616.00 238.40)">1128</text>
<text x="649.70" y="223.40" font-size="11" font-family="'Liberation Sans', sans-serif" font-weight="bold" fill="#000" textLength="26.80" lengthAdjust="spacing" transform="rotate(-90 649.70 223.40)">1200</text>
<text x="680.80" y="207.40" font-size="11" font-family="'Liberation Sans', sans-serif" font-weight="bold" fill="#000" textLength="26.80" lengthAdjust="spacing" transform="rotate(-90 680.80 207.40)">1269</text>
<text x="715.80" y="186.00" font-size="11" font-family="'Liberation Sans', sans-serif" font-weight="bold" fill="#000" textLength="26.80" lengthAdjust="spacing" transform="rotate(-90 715.80 186.00)">1357</text>
<text x="748.40" y="165.70" font-size="11" font-family="'Liberation Sans', sans-serif" font-weight="bold" fill="#000" textLength="26.80" lengthAdjust="spacing" transform="rotate(-90 748.40 165.70)">1445</text>
<text x="775.10" y="152.40" font-size="11" font-family="'Liberation Sans', sans-serif" font-weight="bold" fill="#000" textLength="26.80" lengthAdjust="spacing" transform="rotate(-90 775.10 152.40)">1529</text>
<text x="807.10" y="138.90" font-size="11" font-family="'Liberation Sans', sans-serif" font-weight="bold" fill="#000" textLength="26.80" lengthAdjust="spacing" transform="rotate(-90 807.10 138.90)">1593</text>
<text x="838.80" y="122.40" font-size="11" font-family="'Liberation Sans', sans-serif" font-weight="bold" fill="#000" textLength="26.80" lengthAdjust="spacing" transform="rotate(-90 838.80 122.40)">1673</text>
<text x="871.80" y="105.90" font-size="11" font-family="'Liberation Sans', sans-serif" font-weight="bold" fill="#000" textLength="26.80" lengthAdjust="spacing" transform="rotate(-90 871.80 105.90)">1755</text>
<text x="897.00" y="92.40" font-size="11" font-family="'Liberation Sans', sans-serif" font-weight="bold" fill="#000" textLength="26.80" lengthAdjust="spacing" transform="rotate(-90 897.00 92.40)">1833</text>
<line x1="928.5" y1="75.3" x2="928.5" y2="510" stroke="#000" stroke-width="1"/>
<line x1="928" y1="503.0" x2="935" y2="503.0" stroke="#000" stroke-width="1"/>
<text x="937.30" y="507.70" font-size="14.5" font-family="'Liberation Sans', sans-serif" font-weight="bold" fill="#ffffff">0</text>
<line x1="928" y1="460.3" x2="935" y2="460.3" stroke="#000" stroke-width="1"/>
<text x="937.30" y="464.96" font-size="14.5" font-family="'Liberation Sans', sans-serif" font-weight="bold" fill="#ffffff">200</text>
<line x1="928" y1="417.5" x2="935" y2="417.5" stroke="#000" stroke-width="1"/>
<text x="937.30" y="422.22" font-size="14.5" font-family="'Liberation Sans', sans-serif" font-weight="bold" fill="#ffffff">400</text>
<line x1="928" y1="374.8" x2="935" y2="374.8" stroke="#000" stroke-width="1"/>
<text x="937.30" y="379.48" font-size="14.5" font-family="'Liberation Sans', sans-serif" font-weight="bold" fill="#ffffff">600</text>
<line x1="928" y1="332.0" x2="935" y2="332.0" stroke="#000" stroke-width="1"/>
<text x="937.30" y="336.74" font-size="14.5" font-family="'Liberation Sans', sans-serif" font-weight="bold" fill="#ffffff">800</text>
<line x1="928" y1="289.3" x2="935" y2="289.3" stroke="#000" stroke-width="1"/>
<text x="937.30" y="294.00" font-size="14.5" font-family="'Liberation Sans', sans-serif" font-weight="bold" fill="#ffffff">1000</text>
<line x1="928" y1="246.6" x2="935" y2="246.6" stroke="#000" stroke-width="1"/>
<text x="937.30" y="251.26" font-size="14.5" font-family="'Liberation Sans', sans-serif" font-weight="bold" fill="#ffffff">1200</text>
<line x1="928" y1="203.8" x2="935" y2="203.8" stroke="#000" stroke-width="1"/>
<text x="937.30" y="208.52" font-size="14.5" font-family="'Liberation Sans', sans-serif" font-weight="bold" fill="#ffffff">1400</text>
<line x1="928" y1="161.1" x2="935" y2="161.1" stroke="#000" stroke-width="1"/>
<text x="937.30" y="165.78" font-size="14.5" font-family="'Liberation Sans', sans-serif" font-weight="bold" fill="#ffffff">1600</text>
<line x1="928" y1="118.3" x2="935" y2="118.3" stroke="#000" stroke-width="1"/>
<text x="937.30" y="123.04" font-size="14.5" font-family="'Liberation Sans', sans-serif" font-weight="bold" fill="#ffffff">1800</text>
<line x1="928" y1="75.6" x2="935" y2="75.6" stroke="#000" stroke-width="1"/>
<text x="937.30" y="80.30" font-size="14.5" font-family="'Liberation Sans', sans-serif" font-weight="bold" fill="#ffffff">2000</text>
<g fill="none" stroke="#000" stroke-width="1">
<polyline points="56.5,310.5 42.3,384"/>
<polyline points="151.6,329.7 158.4,381"/>
<polyline points="303.3,297.5 314.4,327 306.1,343"/>
<polyline points="553.4,214.6 567.1,263.8"/>
<polyline points="778.2,67.3 870.6,62.5 874.3,104.4"/>
<polyline points="889.5,60.5 889.5,100"/>
</g>
<text x="37.50" y="303.80" font-size="10.5" font-family="'DejaVu Sans', sans-serif" font-weight="bold" font-style="italic" fill="#000" textLength="55.00" lengthAdjust="spacingAndGlyphs">Sobradelo</text>
<text x="122.50" y="324.00" font-size="10.5" font-family="'DejaVu Sans', sans-serif" font-weight="bold" font-style="italic" fill="#000" textLength="68.20" lengthAdjust="spacingAndGlyphs">Viladequinta</text>
<text x="281.60" y="276.80" font-size="10.5" font-family="'DejaVu Sans', sans-serif" font-weight="bold" font-style="italic" fill="#000" textLength="35.20" lengthAdjust="spacingAndGlyphs">Desvío</text>
<text x="274.70" y="291.80" font-size="10.5" font-family="'DejaVu Sans', sans-serif" font-weight="bold" font-style="italic" fill="#000" textLength="49.60" lengthAdjust="spacingAndGlyphs">A Medua</text>
<text x="528.90" y="194.90" font-size="10.5" font-family="'DejaVu Sans', sans-serif" font-weight="bold" font-style="italic" fill="#000" textLength="32.90" lengthAdjust="spacingAndGlyphs">desvío</text>
<text x="526.10" y="209.90" font-size="10.5" font-family="'DejaVu Sans', sans-serif" font-weight="bold" font-style="italic" fill="#000" textLength="44.80" lengthAdjust="spacingAndGlyphs">a Casaio</text>
<text x="681.00" y="71.50" font-size="10.5" font-family="'DejaVu Sans', sans-serif" font-weight="bold" font-style="italic" fill="#000" textLength="83.20" lengthAdjust="spacingAndGlyphs">Edificio antigua</text>
<text x="681.00" y="86.40" font-size="10.5" font-family="'DejaVu Sans', sans-serif" font-weight="bold" font-style="italic" fill="#000" textLength="81.00" lengthAdjust="spacingAndGlyphs">estación de sky</text>
<rect x="256" y="21" width="420.5" height="47" fill="#000"/>
<text x="261.00" y="53.50" font-size="26.5" font-family="'Liberation Serif', serif" font-weight="bold" font-style="italic" fill="#ffc000" textLength="405.50" lengthAdjust="spacingAndGlyphs">Puerto de Fonte da Cova (1848 m)</text>
<rect x="736.3" y="20.4" width="167.8" height="39.8" fill="#f8f59c"/>
<text x="739.00" y="37.90" font-size="13" font-family="'DejaVu Sans', sans-serif" font-weight="bold" font-style="italic" fill="#000" textLength="161.30" lengthAdjust="spacingAndGlyphs">Puerto de Fonte da Cova</text>
<text x="850.40" y="56.10" font-size="13" font-family="'DejaVu Sans', sans-serif" font-weight="bold" font-style="italic" fill="#000" textLength="48.10" lengthAdjust="spacingAndGlyphs">1848 m</text>
<rect x="904.6" y="22.5" width="2.9" height="73.5" fill="#ff0000"/>
<rect x="44.8" y="69.8" width="141.4" height="76.9" fill="#fafcfc"/>
<text x="48.30" y="86.60" font-size="12.3" font-family="'Liberation Sans', sans-serif" font-weight="bold" font-style="italic" fill="#000" textLength="54.50" lengthAdjust="spacingAndGlyphs">Desnivel:</text>
<text x="140.20" y="86.60" font-size="12.3" font-family="'Liberation Sans', sans-serif" font-weight="bold" font-style="italic" fill="#000" textLength="41.60" lengthAdjust="spacingAndGlyphs">1508 m</text>
<text x="48.30" y="104.70" font-size="12.3" font-family="'Liberation Sans', sans-serif" font-weight="bold" font-style="italic" fill="#000" textLength="60.60" lengthAdjust="spacingAndGlyphs">Distancia:</text>
<text x="129.30" y="104.70" font-size="12.3" font-family="'Liberation Sans', sans-serif" font-weight="bold" font-style="italic" fill="#000" textLength="52.50" lengthAdjust="spacingAndGlyphs">27,3 kms</text>
<text x="48.30" y="122.40" font-size="12.3" font-family="'Liberation Sans', sans-serif" font-weight="bold" font-style="italic" fill="#000" textLength="66.70" lengthAdjust="spacingAndGlyphs">Pte.Media:</text>
<text x="146.30" y="122.40" font-size="12.3" font-family="'Liberation Sans', sans-serif" font-weight="bold" font-style="italic" fill="#000" textLength="35.50" lengthAdjust="spacingAndGlyphs">5,52%</text>
<text x="48.30" y="140.30" font-size="12.3" font-family="'Liberation Sans', sans-serif" font-weight="bold" font-style="italic" fill="#000" textLength="32.60" lengthAdjust="spacingAndGlyphs">APM:</text>
<text x="161.80" y="140.30" font-size="12.3" font-family="'Liberation Sans', sans-serif" font-weight="bold" font-style="italic" fill="#000" textLength="20.00" lengthAdjust="spacingAndGlyphs">301</text>
<rect x="233" y="82.2" width="99.7" height="18.4" fill="#a0f5e6"/>
<rect x="218.9" y="100.4" width="128.9" height="41.6" fill="#a0f5e6"/>
<rect x="222.7" y="141.8" width="121.9" height="3" fill="#a0f5e6"/>
<text x="236.60" y="98.20" font-size="12.3" font-family="'Liberation Sans', sans-serif" font-weight="bold" font-style="italic" fill="#14146e" textLength="93.00" lengthAdjust="spacingAndGlyphs">Últimos 14 kms</text>
<rect x="221.6" y="116" width="1.4" height="1.4" fill="#14146e"/><rect x="221.6" y="134" width="1.4" height="1.4" fill="#14146e"/>
<text x="226.20" y="119.60" font-size="12.3" font-family="'Liberation Sans', sans-serif" font-weight="bold" font-style="italic" fill="#14146e" textLength="54.00" lengthAdjust="spacingAndGlyphs">Desnivel:</text>
<text x="294.20" y="119.60" font-size="12.3" font-family="'Liberation Sans', sans-serif" font-weight="bold" font-style="italic" fill="#14146e" textLength="41.60" lengthAdjust="spacingAndGlyphs">1012 m</text>
<text x="226.20" y="137.60" font-size="12.3" font-family="'Liberation Sans', sans-serif" font-weight="bold" font-style="italic" fill="#14146e" textLength="65.90" lengthAdjust="spacingAndGlyphs">Pte.Media:</text>
<text x="300.50" y="137.60" font-size="12.3" font-family="'Liberation Sans', sans-serif" font-weight="bold" font-style="italic" fill="#14146e" textLength="34.70" lengthAdjust="spacingAndGlyphs">7,22%</text>
<text x="359.90" y="97.60" font-size="12.3" font-family="'Liberation Sans', sans-serif" font-weight="bold" font-style="italic" fill="#14146e" textLength="131.10" lengthAdjust="spacingAndGlyphs">km 20,2 a 23,2:  9,03%</text>
<text x="359.90" y="115.20" font-size="12.3" font-family="'Liberation Sans', sans-serif" font-weight="bold" font-style="italic" fill="#14146e" textLength="198.10" lengthAdjust="spacingAndGlyphs">km más duro: 20,3 a 21,3 (10,4%)</text>
<rect x="639.5" y="350" width="62" height="28.6" fill="#000"/>
<text x="659.80" y="349.30" font-size="15.5" font-family="'DejaVu Sans', sans-serif" font-style="italic" fill="#ffd000" textLength="43.00" lengthAdjust="spacingAndGlyphs" stroke="#ffd000" stroke-width="0.3">39x28</text>
<text x="644.00" y="369.60" font-size="16.5" font-family="'DejaVu Sans', sans-serif" font-style="italic" fill="#ffff00" textLength="79.00" lengthAdjust="spacingAndGlyphs" stroke="#ffff00" stroke-width="0.3">Montero79</text>
<text x="643.30" y="390.70" font-size="15.5" font-family="'DejaVu Sans', sans-serif" font-style="italic" fill="#ffd000" textLength="77.50" lengthAdjust="spacingAndGlyphs" stroke="#ffd000" stroke-width="0.3">Altimetrías</text>
<g fill="none" stroke="#30c8c8" stroke-width="1">
<polyline points="653,192.1 659.4,203.3 684.8,209.9"/>
<polyline points="681,173.6 685.8,205.2"/>
<polyline points="689.5,153.5 695.2,158.2 698.9,203.3"/>
<polyline points="694.8,126.7 699.8,126.7 701.2,203.3"/>
<polyline points="705.6,153.6 705.6,194"/>
<polyline points="719.7,172.4 716,186.5"/>
<polyline points="719,206.6 718,200.7"/>
<polyline points="737.7,206.6 747,185.6"/>
<polyline points="749.8,137.1 752.6,152.6 745.1,172.4"/>
<polyline points="774.2,121.6 780.8,140.4 776.1,156.4"/>
<polyline points="778.2,102.4 792.7,140.6 806,143.7"/>
<polyline points="816.1,78.8 834.1,81 850.7,118.6"/>
<polyline points="807.8,102.6 812.3,106.6 820.6,135.2"/>
<polyline points="846.2,77.7 855.2,115.6"/>
<polyline points="859,67.5 877.7,78 879.2,90 888.3,98.3"/>
<polyline points="887.5,118.3 889.8,111"/>
</g>
<rect x="640.3" y="177.3" width="25.3" height="14.8" fill="#00f0e0"/>
<text x="652.95" y="189.30" font-size="13" font-family="'Liberation Sans', sans-serif" font-weight="bold" fill="#000" text-anchor="middle" textLength="20.50" lengthAdjust="spacingAndGlyphs">12%</text>
<rect x="659" y="157.3" width="24.9" height="16.3" fill="#00f0e0"/>
<text x="671.45" y="170.80" font-size="13" font-family="'Liberation Sans', sans-serif" font-weight="bold" fill="#000" text-anchor="middle" textLength="20.50" lengthAdjust="spacingAndGlyphs">10%</text>
<rect x="664.1" y="138.5" width="25.4" height="15.0" fill="#00f0e0"/>
<text x="676.80" y="150.70" font-size="13" font-family="'Liberation Sans', sans-serif" font-weight="bold" fill="#000" text-anchor="middle" textLength="20.50" lengthAdjust="spacingAndGlyphs">11%</text>
<rect x="670.2" y="120.3" width="24.6" height="15.4" fill="#00f0e0"/>
<text x="682.50" y="132.90" font-size="13" font-family="'Liberation Sans', sans-serif" font-weight="bold" fill="#000" text-anchor="middle" textLength="20.50" lengthAdjust="spacingAndGlyphs">12%</text>
<rect x="703" y="138.5" width="25.0" height="15.0" fill="#00f0e0"/>
<text x="715.50" y="150.70" font-size="13" font-family="'Liberation Sans', sans-serif" font-weight="bold" fill="#000" text-anchor="middle" textLength="20.50" lengthAdjust="spacingAndGlyphs">13%</text>
<rect x="717.7" y="158.2" width="22.3" height="13.2" fill="#00f0e0"/>
<text x="728.85" y="168.60" font-size="11.5" font-family="'Liberation Sans', sans-serif" fill="#000" text-anchor="middle" textLength="18.00" lengthAdjust="spacingAndGlyphs">13%</text>
<rect x="718.5" y="206.6" width="23.9" height="15.1" fill="#00f0e0"/>
<text x="730.45" y="218.90" font-size="11.5" font-family="'Liberation Sans', sans-serif" fill="#000" text-anchor="middle" textLength="18.00" lengthAdjust="spacingAndGlyphs">11%</text>
<rect x="733.4" y="123.5" width="21.4" height="13.6" fill="#00f0e0"/>
<text x="744.10" y="134.30" font-size="11.5" font-family="'Liberation Sans', sans-serif" fill="#000" text-anchor="middle" textLength="18.00" lengthAdjust="spacingAndGlyphs">10%</text>
<rect x="752" y="108.6" width="24.8" height="13.0" fill="#00f0e0"/>
<text x="764.40" y="118.80" font-size="11.5" font-family="'Liberation Sans', sans-serif" fill="#000" text-anchor="middle" textLength="18.00" lengthAdjust="spacingAndGlyphs">11%</text>
<rect x="760.2" y="89" width="23.6" height="13.4" fill="#00f0e0"/>
<text x="772.00" y="99.60" font-size="11.5" font-family="'Liberation Sans', sans-serif" fill="#000" text-anchor="middle" textLength="18.00" lengthAdjust="spacingAndGlyphs">10%</text>
<rect x="792" y="70.3" width="24.0" height="14.1" fill="#00f0e0"/>
<text x="804.00" y="81.60" font-size="11.5" font-family="'Liberation Sans', sans-serif" fill="#000" text-anchor="middle" textLength="18.00" lengthAdjust="spacingAndGlyphs">10%</text>
<rect x="792" y="89.5" width="24.0" height="12.9" fill="#00f0e0"/>
<text x="804.00" y="99.60" font-size="11.5" font-family="'Liberation Sans', sans-serif" fill="#000" text-anchor="middle" textLength="18.00" lengthAdjust="spacingAndGlyphs">11%</text>
<rect x="836" y="64.5" width="23.4" height="13.1" fill="#00f0e0"/>
<text x="847.70" y="74.80" font-size="11.5" font-family="'Liberation Sans', sans-serif" fill="#000" text-anchor="middle" textLength="18.00" lengthAdjust="spacingAndGlyphs">11%</text>
<rect x="878" y="118.3" width="20.0" height="13.0" fill="#00f0e0"/>
<text x="888.00" y="128.50" font-size="11.5" font-family="'Liberation Sans', sans-serif" fill="#000" text-anchor="middle" textLength="18.00" lengthAdjust="spacingAndGlyphs">14%</text>
</svg>
</body></html>
